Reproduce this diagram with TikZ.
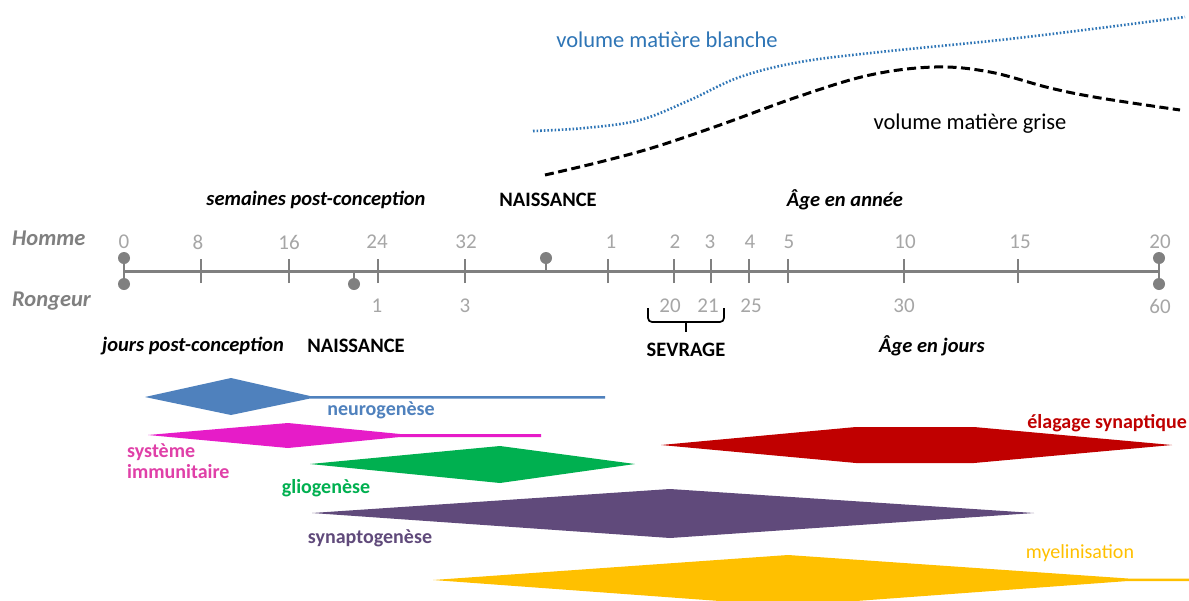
\documentclass[tikz,border=0pt]{standalone}
\usepackage{fontspec}
\setmainfont{Carlito}
\definecolor{axisgray}{HTML}{808080}
\definecolor{numgray}{HTML}{A6A6A6}
\definecolor{wmblue}{HTML}{2E75B6}
\definecolor{neublue}{HTML}{4F81BD}
\definecolor{immag}{HTML}{E61CC8}
\definecolor{immtext}{HTML}{E040A8}
\definecolor{glgreen}{HTML}{00B050}
\definecolor{synpurple}{HTML}{604A7B}
\definecolor{elred}{HTML}{C00000}
\definecolor{myyellow}{HTML}{FFC000}
\tikzset{
  base/.style={inner sep=0pt, font=\fontsize{20}{24}\selectfont},
  num/.style={base, text=numgray, font=\fontsize{21}{24}\selectfont},
  head/.style={base, font=\fontsize{20.5}{24}\bfseries\itshape\selectfont},
  caps/.style={base, font=\fontsize{20.5}{24}\bfseries\selectfont},
  species/.style={base, anchor=west, text=axisgray, font=\fontsize{22.5}{26}\itshape\bfseries\selectfont},
  curvelab/.style={base, font=\fontsize{22.5}{26}\selectfont},
  proclab/.style={base, font=\fontsize{20}{22}\bfseries\selectfont},
  tickmark/.style={draw=axisgray, line width=2.8pt},
  dotmark/.style={circle, fill=axisgray, minimum size=12pt, inner sep=0pt},
  stem/.style={draw=axisgray, line width=2.5pt},
  bracket/.style={draw=black, line width=1.7pt, rounded corners=4pt},
}
\begin{document}
\begin{tikzpicture}[x=1pt,y=-1pt]
\clip (0,0) rectangle (1189,600);
\fill[white] (0,0) rectangle (1189,600);

% ---------- top curves ----------
\draw[wmblue, line width=2.6pt, dash pattern=on 1.6pt off 2pt]
  plot[smooth, tension=0.6] coordinates {(533,131) (585,128) (640,120) (690,100) (740,77) (800,62) (880,52) (1000,40) (1100,28) (1185,17)};
\draw[black, line width=3pt, dash pattern=on 9pt off 4.5pt]
  plot[smooth, tension=0.6] coordinates {(545,175) (600,162) (655,147) (720,125) (800,96) (870,75) (935,67) (990,72) (1050,88) (1100,98) (1180,110)};
\node[curvelab, text=wmblue] (wm) at (667,40) {volume matière blanche};
\node[curvelab, text=black] (gm) at (970,124) {volume matière grise};

% ---------- headings ----------
\node[head] (semaines) at (316,200) {semaines post-conception};
\node[caps] (naisH) at (548,200) {NAISSANCE};
\node[head] (ageannee) at (845,200) {Âge en année};
\node[head] (jours) at (193,346) {jours post-conception};
\node[caps] (naisR) at (356,346) {NAISSANCE};
\node[head] (agejours) at (932,346) {Âge en jours};
\node[species] (homme) at (12,238) {Homme};
\node[species] (rongeur) at (12,301) {Rongeur};

% ---------- axis ----------
\coordinate (a0) at (124,271);
\coordinate (a1) at (1159,271);
\draw[axisgray, line width=3pt] (a0) -- (a1);
\foreach \x/\n in {201/8,289/16,378/24,465/32,608/y1,674/y2,711/y3,749/y4,788/y5,904/y10,1018/y15}{
  \coordinate (t\n) at (\x,271);
  \draw[tickmark] ([yshift=-12pt]t\n) -- ([yshift=12pt]t\n);
}
% top numbers
\foreach \x/\t in {124/0,198/8,289/16,377/24,466/32,611/1,675/2,710/3,750/4,789/5,905/10,1020/15,1160/20}{
  \node[num] at (\x,242) {\t};
}
% bottom numbers
\foreach \x/\t in {377/1,465/3,670/20,708/21,751/25,904/30,1160/60}{
  \node[num] at (\x,306) {\t};
}
% dots
\node[dotmark] (d0h) at (124,258) {};
\node[dotmark] (d0r) at (124,284) {};
\draw[stem] (d0h) -- (d0r);
\node[dotmark] (d20h) at (1159,258) {};
\node[dotmark] (d60r) at (1159,284) {};
\draw[stem] (d20h) -- (d60r);
\node[dotmark] (birthR) at (354,284) {};
\coordinate (birthRa) at (354,271);
\draw[stem] (birthR) -- (birthRa);
\node[dotmark] (birthH) at (546,258) {};
\coordinate (birthHa) at (546,271);
\draw[stem] (birthH) -- (birthHa);

% bracket under 20 / 21
\coordinate (brL) at (648,308);
\coordinate (brR) at (724,308);
\coordinate (brM) at (686,322);
\coordinate (brTip) at (686,332);
\draw[bracket] (brL) |- (brM) -| (brR);
\draw[draw=black, line width=1.7pt] (brM) -- (brTip);
\node[caps] (sevrage) at (686,350) {SEVRAGE};

% ---------- process bands ----------
% neurogenese
\fill[neublue] (145,397) -- (231,378) -- (310,396) -- (605,396) -- (605,398.5) -- (310,398.5) -- (231,415) -- cycle;
\node[proclab, text=neublue] (neuro) at (381,410) {neurogenèse};
% systeme immunitaire
\fill[immag] (148,435) -- (288,423) -- (400,434) -- (541,434) -- (541,437) -- (400,437) -- (288,448) -- cycle;
\node[proclab, text=immtext, anchor=west, align=left, font=\fontsize{20}{21}\bfseries\selectfont] (immun) at (127,461) {système\\immunitaire};
% gliogenese
\fill[glgreen] (310,464) -- (500,446) -- (635,464) -- (500,483) -- cycle;
\node[proclab, text=glgreen] (glio) at (326,488) {gliogenèse};
% synaptogenese
\fill[synpurple] (312,513) -- (670,489) -- (1034,513) -- (670,538) -- cycle;
\node[proclab, text=synpurple] (synapto) at (370,538) {synaptogenèse};
% elagage synaptique
\fill[elred] (661,445) -- (856,427) -- (974,427) -- (1172,445) -- (974,463) -- (856,463) -- cycle;
\node[proclab, text=elred, anchor=east] (elag) at (1187,423) {élagage synaptique};
% myelinisation
\fill[myyellow] (433,580) -- (788,555) -- (1128,578.5) -- (1189,578.5) -- (1189,581) -- (1128,581) -- (788,606) -- cycle;
\node[proclab, text=myyellow, font=\fontsize{20}{22}\selectfont] (myel) at (1080,553) {myelinisation};
\end{tikzpicture}
\end{document}
